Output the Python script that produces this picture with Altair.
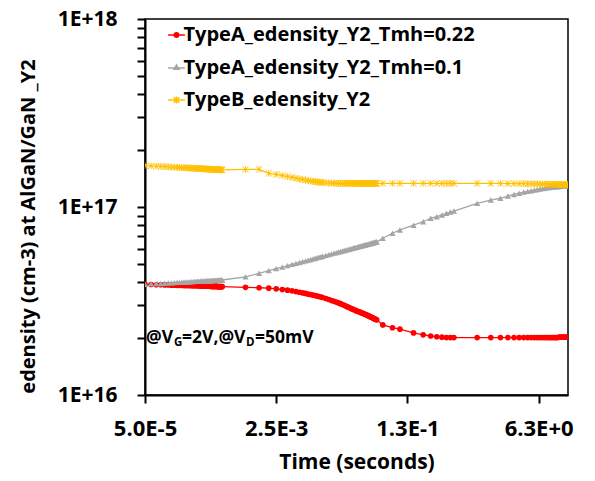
import altair as alt
import pandas as pd

SERIES = ["TypeA_edensity_Y2_Tmh=0.22", "TypeA_edensity_Y2_Tmh=0.1", "TypeB_edensity_Y2"]
COLORS = ["#FF0000", "#A5A5A5", "#FFC000"]

# ---- time grid ----
T_A_E5 = [5, 6, 7, 8, 9, 10, 11, 12, 13, 14, 15, 16, 17, 18, 19, 20, 21, 22, 23, 24, 25, 26, 27,
          28, 29, 30, 31, 32, 33, 34, 35, 36, 37, 38, 39, 40, 41, 42, 43, 44, 45, 46, 47, 48, 49, 50]
T_B_MS = [1, 1.5, 2, 2.5, 3, 3.5, 4, 4.5, 5, 5.5, 6, 6.5, 7, 7.5, 8, 8.5, 9, 9.5, 10,
          11, 12, 13, 14, 15, 16, 17, 18, 19, 20, 21, 22, 23, 24, 25, 26, 27, 28, 29, 30,
          31, 32, 33, 34, 35, 36, 37, 38, 39, 40, 41, 42, 43, 44, 45, 46, 47, 48, 49, 50]
T_C_S = [0.06, 0.08, 0.1, 0.15, 0.2, 0.25, 0.3, 0.35, 0.4, 0.45, 0.5]
T_D_S = [1, 1.5, 2, 2.5, 3, 3.5, 4, 4.5, 5, 5.5, 6, 6.5, 7, 7.5, 8, 8.5, 9, 9.5, 10,
         10.5, 11, 11.5, 12, 12.5, 13, 13.5, 14, 14.5, 15]

# ---- edensity values in units of 1E+16 cm-3 ----
RED_A = [3.88, 3.87, 3.86, 3.86, 3.85, 3.85, 3.84, 3.84, 3.83, 3.83, 3.83, 3.82, 3.82, 3.82, 3.82,
         3.81, 3.81, 3.81, 3.81, 3.81, 3.80, 3.80, 3.80, 3.80, 3.80, 3.79, 3.79, 3.79, 3.79, 3.79,
         3.79, 3.78, 3.78, 3.78, 3.78, 3.78, 3.78, 3.78, 3.78, 3.77, 3.77, 3.77, 3.77, 3.77, 3.77, 3.77]
RED_B = [3.74, 3.72, 3.70, 3.67, 3.64, 3.61, 3.58, 3.55, 3.52, 3.49, 3.47, 3.44, 3.42, 3.40, 3.38,
         3.36, 3.34, 3.32, 3.30,
         3.26, 3.22, 3.18, 3.15, 3.12, 3.09, 3.06, 3.03, 3.00, 2.97, 2.94, 2.92, 2.89, 2.87, 2.85,
         2.83, 2.81, 2.79, 2.78, 2.76, 2.75, 2.73, 2.72, 2.71, 2.69, 2.68, 2.67, 2.65, 2.64, 2.63,
         2.61, 2.60, 2.59, 2.58, 2.56, 2.55, 2.54, 2.53, 2.52, 2.51]
RED_C = [2.36, 2.28, 2.24, 2.14, 2.09, 2.06, 2.04, 2.03, 2.02, 2.02, 2.02]
RED_D = [2.02, 2.02, 2.02, 2.02, 2.02, 2.02, 2.02, 2.02, 2.02, 2.02, 2.02, 2.02, 2.02, 2.02, 2.02,
         2.02, 2.02, 2.02, 2.02, 2.02, 2.02, 2.03, 2.03, 2.03, 2.03, 2.03, 2.03, 2.03, 2.03]

GRAY_A = [3.88, 3.90, 3.91, 3.92, 3.93, 3.94, 3.95, 3.96, 3.97, 3.97, 3.98, 3.99, 3.99, 4.00, 4.00,
          4.01, 4.01, 4.02, 4.02, 4.02, 4.03, 4.03, 4.03, 4.04, 4.04, 4.04, 4.05, 4.05, 4.05, 4.05,
          4.06, 4.06, 4.06, 4.07, 4.07, 4.07, 4.07, 4.07, 4.08, 4.08, 4.08, 4.08, 4.08, 4.09, 4.09, 4.09]
GRAY_B = [4.25, 4.44, 4.59, 4.70, 4.79, 4.88, 4.95, 5.01, 5.07, 5.12, 5.17, 5.22, 5.26, 5.30, 5.34,
          5.38, 5.41, 5.44, 5.47,
          5.53, 5.58, 5.63, 5.68, 5.72, 5.76, 5.80, 5.83, 5.87, 5.90, 5.93, 5.96, 5.99, 6.02, 6.05,
          6.07, 6.10, 6.12, 6.15, 6.17, 6.19, 6.21, 6.23, 6.26, 6.28, 6.30, 6.31, 6.33, 6.35, 6.37,
          6.39, 6.40, 6.42, 6.44, 6.45, 6.47, 6.48, 6.50, 6.51, 6.53]
GRAY_C = [6.82, 7.25, 7.55, 8.00, 8.35, 8.71, 8.88, 9.07, 9.26, 9.40, 9.52]
GRAY_D = [10.46, 10.89, 11.13, 11.44, 11.66, 11.84, 11.99, 12.11, 12.21, 12.31, 12.39, 12.46, 12.53,
          12.59, 12.64, 12.68, 12.73, 12.76, 12.79, 12.82, 12.84, 12.85, 12.87, 12.89, 12.90, 12.92,
          12.92, 12.93, 12.93]

YEL_A = [16.60, 16.53, 16.48, 16.43, 16.38, 16.34, 16.31, 16.28, 16.25, 16.22, 16.19, 16.17, 16.15,
         16.13, 16.11, 16.09, 16.07, 16.05, 16.04, 16.02, 16.01, 15.99, 15.98, 15.96, 15.95, 15.94,
         15.93, 15.91, 15.90, 15.89, 15.88, 15.87, 15.86, 15.85, 15.84, 15.83, 15.82, 15.81, 15.81,
         15.80, 15.79, 15.78, 15.77, 15.77, 15.76, 15.75]
YEL_B = [15.87, 15.87, 15.08, 14.90, 14.71, 14.52, 14.36, 14.22, 14.10, 13.99, 13.90, 13.82, 13.75,
         13.69, 13.64, 13.59, 13.55, 13.52, 13.49,
         13.44, 13.41, 13.39, 13.38, 13.37, 13.36, 13.36, 13.36, 13.36, 13.36, 13.36, 13.36, 13.36,
         13.36, 13.36, 13.36, 13.36, 13.36, 13.36, 13.36, 13.36, 13.36, 13.36, 13.36, 13.36, 13.36,
         13.36, 13.36, 13.36, 13.36, 13.36, 13.36, 13.36, 13.36, 13.36, 13.37, 13.37, 13.37, 13.37, 13.37]
YEL_C = [13.37, 13.37, 13.37, 13.37, 13.37, 13.37, 13.37, 13.36, 13.36, 13.36, 13.36]
YEL_D = [13.36, 13.35, 13.34, 13.33, 13.32, 13.31, 13.30, 13.29, 13.28, 13.27, 13.26, 13.25, 13.24,
         13.23, 13.22, 13.21, 13.20, 13.20, 13.19, 13.18, 13.18, 13.17, 13.17, 13.16, 13.16, 13.15,
         13.15, 13.14, 13.14]

X_TICKS = [5e-5, 2.5e-3, 0.125, 6.25]
Y_TICKS = [1e16, 2e16, 3e16, 4e16, 5e16, 6e16, 7e16, 8e16, 9e16,
           1e17, 2e17, 3e17, 4e17, 5e17, 6e17, 7e17, 8e17, 9e17, 1e18]

ANNOT_PIECES = ["@V", "G", "=2V,@V", "D", "=50mV"]

# ---- build table ----
times = ([v * 1e-5 for v in T_A_E5] + [v * 1e-3 for v in T_B_MS] + T_C_S + T_D_S)
rows = []
for name, parts in zip(SERIES, [(RED_A, RED_B, RED_C, RED_D),
                                (GRAY_A, GRAY_B, GRAY_C, GRAY_D),
                                (YEL_A, YEL_B, YEL_C, YEL_D)]):
    vals = parts[0] + parts[1] + parts[2] + parts[3]
    for t, v in zip(times, vals):
        rows.append({"series": name, "t": t, "n": v * 1e16})
df = pd.DataFrame(rows)

FONT = "Open Sans"

STAR_FILLED = ("M-0.85,-1L0,-0.15L0.85,-1L1,-0.85L0.15,0L1,0.85L0.85,1L0,0.15L-0.85,1L-1,0.85"
               "L-0.15,0L-1,-0.85Z M-0.13,-1H0.13V1H-0.13Z")
LEG_CIRCLE = ("M-1.35,0H2.85 M1.3,0A0.55,0.55 0 1,1 0.2,0A0.55,0.55 0 1,1 1.3,0"
              " M0.97,0A0.22,0.22 0 1,1 0.53,0A0.22,0.22 0 1,1 0.97,0")
LEG_TRI = "M-1.35,0.1H2.85 M0.75,-0.6L1.37,0.45L0.13,0.45Z M0.75,-0.2L1,0.25L0.5,0.25Z"
LEG_STAR = "M-1.35,0H2.85 M0.05,-0.7L1.45,0.7 M0.05,0.7L1.45,-0.7 M0.75,-0.85V0.85"

x_enc = alt.X("t:Q",
              scale=alt.Scale(type="log", domain=[5e-5, 15], nice=False, zero=False),
              axis=alt.Axis(values=X_TICKS,
                            labelExpr="upper(format(datum.value, '.1e'))",
                            title="Time (seconds)",
                            grid=False, tickSize=8, tickWidth=2, tickColor="black",
                            domainColor="black", domainWidth=2,
                            labelFont=FONT, labelFontSize=22, labelFontWeight="bold",
                            labelColor="black", labelPadding=25, labelBaseline="middle",
                            labelFlush=False, labelOverlap=False,
                            titleFont=FONT, titleFontSize=21, titleFontWeight="bold",
                            titleColor="black", titleX=211.5, titleY=67,
                            titleBaseline="middle", titleAlign="center"))
y_enc = alt.Y("n:Q",
              scale=alt.Scale(type="log", domain=[1e16, 1e18], nice=False, zero=False),
              axis=alt.Axis(values=Y_TICKS,
                            labelExpr="(datum.value == 1e16 || datum.value == 1e17 || datum.value == 1e18) ? upper(format(datum.value, '.0e')) : ''",
                            title="edensity (cm-3) at AlGaN/GaN _Y2",
                            grid=False, tickSize=8, tickWidth=2, tickColor="black",
                            domainColor="black", domainWidth=2,
                            labelFont=FONT, labelFontSize=21, labelFontWeight="bold",
                            labelColor="black", labelPadding=20, labelOverlap=False,
                            labelFlush=False,
                            titleFont=FONT, titleFontSize=20, titleFontWeight="bold",
                            titleColor="black", titleX=-117, titleY=207, titleAngle=270,
                            titleBaseline="middle", titleAlign="center"))

base = alt.Chart(df)

lines = base.mark_line(strokeWidth=1.3, clip=True).encode(
    x=x_enc, y=y_enc,
    color=alt.Color("series:N", scale=alt.Scale(domain=SERIES, range=COLORS), legend=None),
)

points = base.mark_point(filled=True, opacity=1, clip=True).encode(
    x=x_enc, y=y_enc,
    color=alt.Color("series:N", scale=alt.Scale(domain=SERIES, range=COLORS), legend=None),
    shape=alt.Shape("series:N", scale=alt.Scale(domain=SERIES, range=["circle", "triangle-up", STAR_FILLED]),
                    legend=None),
    size=alt.Size("series:N", scale=alt.Scale(domain=SERIES, range=[32, 45, 55]), legend=None),
)

leg = alt.Legend(title=None, orient="none", legendX=18.5, legendY=6, direction="vertical",
                 labelFont=FONT, labelFontSize=20, labelFontWeight="bold", labelColor="black",
                 symbolSize=64, symbolStrokeWidth=1.5, labelOffset=0, rowPadding=12.5, padding=0,
                 labelLimit=400)
legend_layer = base.transform_filter("false").mark_point(filled=False, opacity=1, strokeWidth=1.5).encode(
    x=x_enc, y=y_enc,
    color=alt.Color("series:N", scale=alt.Scale(domain=SERIES, range=COLORS), legend=leg),
    shape=alt.Shape("series:N", scale=alt.Scale(domain=SERIES, range=[LEG_CIRCLE, LEG_TRI, LEG_STAR]),
                    legend=leg),
)

annot_df = pd.DataFrame({"t": [5e-5], "n": [2.0e16]})
DX = [1, 29, 37, 101, 110]
texts = []
for piece, dx in zip(ANNOT_PIECES, DX):
    sub = piece in ("G", "D")
    texts.append(
        alt.Chart(annot_df).mark_text(
            text=piece, align="left", baseline="middle", dx=dx, dy=5 if sub else 0,
            font=FONT, fontSize=11.5 if sub else 17.5, fontWeight="bold", color="black"
        ).encode(x=alt.X("t:Q", scale=alt.Scale(type="log", domain=[5e-5, 15], nice=False)),
                 y=alt.Y("n:Q", scale=alt.Scale(type="log", domain=[1e16, 1e18], nice=False)))
    )

chart = alt.layer(lines, points, legend_layer, *texts).resolve_scale(
    color="independent", shape="independent", size="independent"
).properties(
    width=423, height=376,
    autosize=alt.AutoSizeParams(type="none"),
    padding={"left": 137, "top": 11, "right": 15, "bottom": 78},
    background="white",
).configure_view(stroke="black", strokeWidth=1.5)

chart.save("out.html", embed_options={"renderer": "svg", "actions": False})
